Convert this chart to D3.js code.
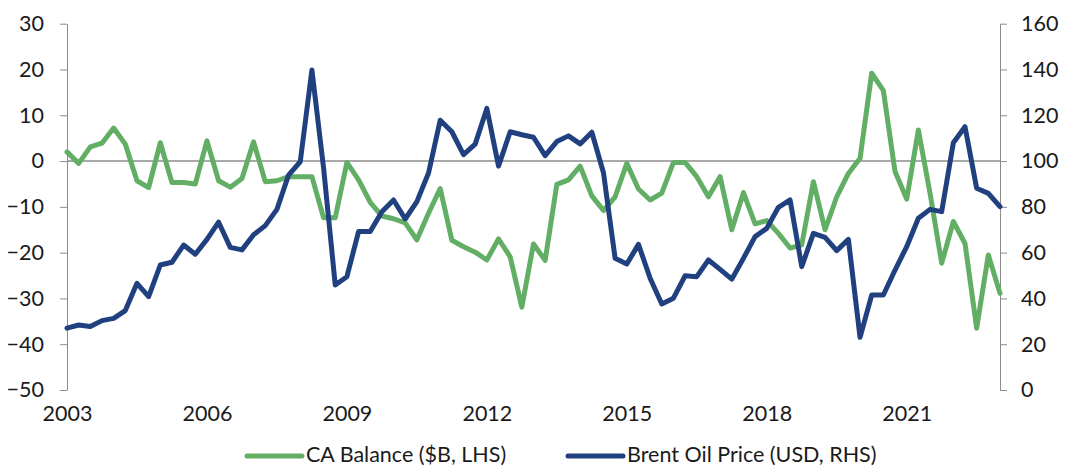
<!DOCTYPE html>
<html>
<head>
<meta charset="utf-8">
<script src="https://cdn.jsdelivr.net/npm/d3@7/dist/d3.min.js"></script>
<style>
  body { margin: 0; background: #fff; }
  text { font-family: Lato, "Open Sans", sans-serif; fill: #1a1a1a; }
</style>
</head>
<body>
<div id="chart"></div>
<script>
// Quarterly categories, 2003Q1 .. 2023Q1
const quarters = d3.range(2003, 2024)
    .flatMap(y => ["Q1", "Q2", "Q3", "Q4"].map(q => y + q))
    .slice(0, 81);

// CA Balance ($B) - left axis
const caBalance = [
    2.0, -0.5, 3.1, 3.9, 7.2, 3.7, -4.3, -5.8, 4.0, -4.7,
    -4.7, -5.0, 4.4, -4.3, -5.7, -3.8, 4.2, -4.5, -4.3, -3.4,
    -3.4, -3.4, -12.4, -12.4, -0.3, -4.1, -9.0, -12.0, -12.6, -13.5,
    -17.2, -11.4, -6.0, -17.3, -18.7, -19.9, -21.6, -17.0, -20.9, -31.9,
    -18.1, -21.7, -5.1, -4.1, -1.1, -7.6, -10.8, -7.8, -0.5, -6.1,
    -8.5, -7.0, -0.3, -0.3, -3.4, -7.8, -3.4, -15.0, -6.9, -13.7,
    -13.0, -15.8, -19.0, -18.3, -4.5, -15.0, -7.8, -2.7, 0.6, 19.2,
    15.4, -2.3, -8.3, 6.8, -7.0, -22.3, -13.2, -18.0, -36.5, -20.5, -28.9
];

// Brent oil price (USD) - right axis
const brentPrice = [
    27.0, 28.4, 27.7, 30.3, 31.3, 34.7, 46.6, 40.8, 54.6, 55.8,
    63.3, 59.3, 65.8, 73.3, 62.3, 61.2, 67.8, 71.8, 78.9, 93.9,
    99.7, 139.8, 97.0, 45.9, 49.5, 69.2, 69.2, 77.9, 83.0, 74.7,
    82.3, 94.8, 117.8, 112.8, 102.8, 107.4, 123.0, 97.8, 112.8, 111.5,
    110.4, 102.4, 108.5, 111.0, 107.5, 112.6, 94.9, 57.5, 55.0, 63.6,
    48.8, 37.6, 40.1, 49.9, 49.5, 56.8, 52.7, 48.4, 57.5, 67.0,
    70.6, 79.8, 83.0, 53.9, 68.4, 66.7, 60.9, 65.8, 23.0, 41.5,
    41.5, 52.4, 62.6, 75.0, 78.9, 77.9, 108.0, 115.0, 88.1, 85.9, 80.1
];

const yearTicks = ["2003Q1", "2006Q1", "2009Q1", "2012Q1", "2015Q1", "2018Q1", "2021Q1"];
const leftTicks = [-50, -40, -30, -20, -10, 0, 10, 20, 30];
const rightTicks = [0, 20, 40, 60, 80, 100, 120, 140, 160];

const seriesNames = ["CA Balance ($B, LHS)", "Brent Oil Price (USD, RHS)"];
const colors = ["#62ae65", "#21407f"];

const width = 1073;
const height = 467;
const plotLeft = 67, plotRight = 1000, plotTop = 23.7, plotBottom = 390;

const svg = d3.select("#chart")
    .append("svg")
    .attr("width", width)
    .attr("height", height);

const x = d3.scalePoint()
    .domain(quarters)
    .range([plotLeft, plotRight]);

const yLeft = d3.scaleLinear()
    .domain([-50, 30])
    .range([plotBottom, plotTop]);

const yRight = d3.scaleLinear()
    .domain([0, 160])
    .range([plotBottom, plotTop]);

// left axis
const gl = svg.append("g")
    .attr("transform", `translate(${plotLeft},0)`)
    .call(d3.axisLeft(yLeft).tickValues(leftTicks).tickSize(7).tickSizeOuter(0).tickPadding(16));
gl.select(".domain").attr("stroke", "#8c8c8c");
gl.selectAll(".tick line").attr("stroke", "#8c8c8c");
gl.selectAll("text").style("font-size", "21.5px").attr("fill", "#1a1a1a");

// right axis
const gr = svg.append("g")
    .attr("transform", `translate(${plotRight},0)`)
    .call(d3.axisRight(yRight).tickValues(rightTicks).tickSize(7).tickSizeOuter(0).tickPadding(14));
gr.select(".domain").attr("stroke", "#8c8c8c");
gr.selectAll(".tick line").attr("stroke", "#8c8c8c");
gr.selectAll("text").style("font-size", "21.5px").attr("fill", "#1a1a1a");

// zero line (category axis)
svg.append("line")
    .attr("x1", plotLeft)
    .attr("x2", plotRight)
    .attr("y1", yLeft(0))
    .attr("y2", yLeft(0))
    .attr("stroke", "#8c8c8c")
    .attr("stroke-width", 1.5);

// year labels at the bottom
const gx = svg.append("g")
    .attr("transform", `translate(0,${plotBottom})`)
    .call(d3.axisBottom(x).tickValues(yearTicks).tickFormat(d => d.slice(0, 4)).tickSize(0).tickPadding(24));
gx.select(".domain").remove();
gx.selectAll("text")
    .style("font-size", "21.5px")
    .attr("fill", "#1a1a1a")
    .attr("dy", "0.32em");

// lines
const lineLeft = d3.line()
    .x((d, i) => x(quarters[i]))
    .y(d => yLeft(d));

const lineRight = d3.line()
    .x((d, i) => x(quarters[i]))
    .y(d => yRight(d));

svg.append("path")
    .datum(caBalance)
    .attr("fill", "none")
    .attr("stroke", colors[0])
    .attr("stroke-width", 5)
    .attr("stroke-linejoin", "round")
    .attr("stroke-linecap", "round")
    .attr("d", lineLeft);

svg.append("path")
    .datum(brentPrice)
    .attr("fill", "none")
    .attr("stroke", colors[1])
    .attr("stroke-width", 5)
    .attr("stroke-linejoin", "round")
    .attr("stroke-linecap", "round")
    .attr("d", lineRight);

// legend
const legendX = [247, 568];
const legend = svg.selectAll(".legend")
    .data(seriesNames)
    .enter()
    .append("g")
    .attr("class", "legend")
    .attr("transform", (d, i) => `translate(${legendX[i]},454)`);

legend.append("line")
    .attr("x1", 0)
    .attr("x2", 55)
    .attr("y1", 2)
    .attr("y2", 2)
    .attr("stroke", (d, i) => colors[i])
    .attr("stroke-width", 5)
    .attr("stroke-linecap", "round");

legend.append("text")
    .attr("x", 59)
    .attr("dy", "0.35em")
    .style("font-size", "21.5px")
    .text(d => d);
</script>
</body>
</html>
